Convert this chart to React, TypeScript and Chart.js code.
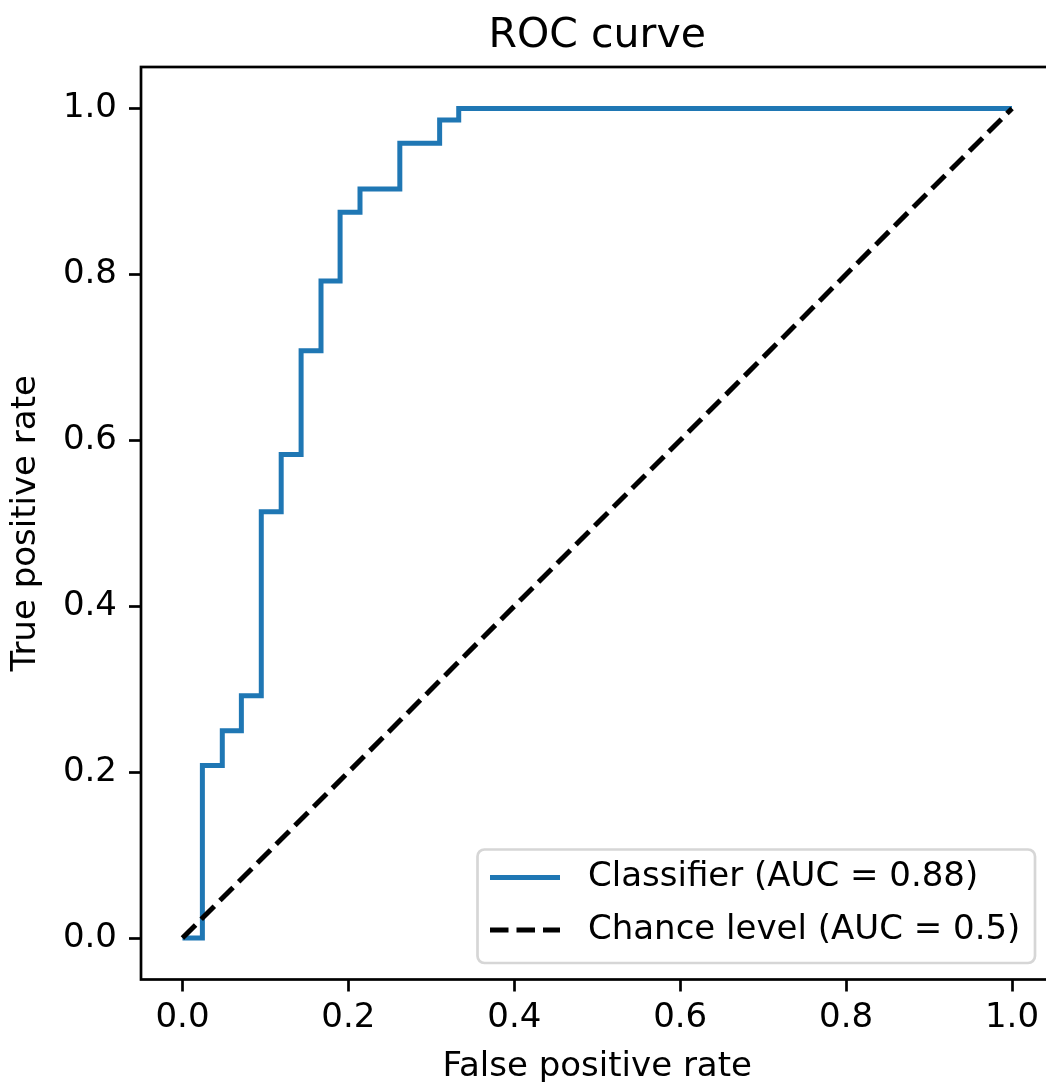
import React, { useEffect, useRef } from "react";
import { Chart, registerables } from "chart.js";

Chart.register(...registerables);

const CHART_TITLE = "ROC curve";
const X_LABEL = "False positive rate";
const Y_LABEL = "True positive rate";
const TICKS = [0, 0.2, 0.4, 0.6, 0.8, 1.0];

// ROC curve vertices (false positive rate, true positive rate)
const fpr = [0, 0.024, 0.024, 0.048, 0.048, 0.071, 0.071, 0.095, 0.095, 0.119, 0.119, 0.143, 0.143, 0.167, 0.167, 0.19, 0.19, 0.214, 0.214, 0.262, 0.262, 0.31, 0.31, 0.333, 0.333, 1.0];
const tpr = [0, 0, 0.208, 0.208, 0.25, 0.25, 0.292, 0.292, 0.514, 0.514, 0.583, 0.583, 0.708, 0.708, 0.792, 0.792, 0.875, 0.875, 0.903, 0.903, 0.958, 0.958, 0.986, 0.986, 1.0, 1.0];

const chanceX = [0, 1];
const chanceY = [0, 1];

const CLASSIFIER_LABEL = "Classifier (AUC = 0.88)";
const CHANCE_LABEL = "Chance level (AUC = 0.5)";

const FONT = "'DejaVu Sans', 'Liberation Sans', sans-serif";
const BLUE = "#1f77b4";
const FS = 34;

const W = 1070;
const H = 1082;

export default function App() {
  const ref = useRef<HTMLCanvasElement | null>(null);

  useEffect(() => {
    const canvas = ref.current;
    if (!canvas) return;

    const framePlugin = {
      id: "frameAndLegend",
      afterDatasetsDraw(chart: any) {
        const { ctx, chartArea } = chart;
        ctx.save();
        ctx.strokeStyle = "#000";
        ctx.lineWidth = 2.7;
        ctx.strokeRect(chartArea.left, chartArea.top, chartArea.right - chartArea.left, chartArea.bottom - chartArea.top);
        ctx.restore();
      },
      afterDraw(chart: any) {
        const { ctx, chartArea } = chart;
        ctx.save();
        // title
        ctx.fillStyle = "#000";
        ctx.font = `41px ${FONT}`;
        ctx.textAlign = "center";
        ctx.textBaseline = "alphabetic";
        ctx.fillText(CHART_TITLE, (chartArea.left + chartArea.right) / 2, 46.5);

        // legend
        const lx = 477.5, ly = 849.5, lw = 557.5, lh = 113.5, r = 7;
        ctx.beginPath();
        ctx.moveTo(lx + r, ly);
        ctx.lineTo(lx + lw - r, ly);
        ctx.arcTo(lx + lw, ly, lx + lw, ly + r, r);
        ctx.lineTo(lx + lw, ly + lh - r);
        ctx.arcTo(lx + lw, ly + lh, lx + lw - r, ly + lh, r);
        ctx.lineTo(lx + r, ly + lh);
        ctx.arcTo(lx, ly + lh, lx, ly + lh - r, r);
        ctx.lineTo(lx, ly + r);
        ctx.arcTo(lx, ly, lx + r, ly, r);
        ctx.closePath();
        ctx.fillStyle = "rgba(255,255,255,0.8)";
        ctx.fill();
        ctx.strokeStyle = "#d6d6d6";
        ctx.lineWidth = 2.7;
        ctx.stroke();

        const ds = chart.data.datasets;
        const entries = [ds[1], ds[0]];
        const rows = [877.5, 930];
        entries.forEach((d: any, i: number) => {
          const y = rows[i];
          ctx.beginPath();
          ctx.setLineDash(d.borderDash || []);
          ctx.lineCap = "butt";
          ctx.strokeStyle = d.borderColor;
          ctx.lineWidth = d.borderWidth;
          ctx.moveTo(490, y);
          ctx.lineTo(560, y);
          ctx.stroke();
          ctx.setLineDash([]);
          ctx.fillStyle = "#000";
          ctx.font = `${FS}px ${FONT}`;
          ctx.textAlign = "left";
          ctx.textBaseline = "middle";
          ctx.fillText(d.label, 588, y);
        });
        ctx.restore();
      },
    };

    const axisCommon = (title: string, isX: boolean) => ({
      type: "linear" as const,
      min: -0.05,
      max: 1.05,
      afterBuildTicks: (scale: any) => {
        scale.ticks = TICKS.map((v) => ({ value: v }));
      },
      afterFit: (scale: any) => {
        if (isX) scale.height = 102.5;
        else scale.width = 141;
      },
      grid: {
        display: true,
        drawOnChartArea: false,
        drawTicks: true,
        tickLength: 12,
        tickWidth: 2.7,
        tickColor: "#000",
      },
      border: { display: false },
      ticks: {
        color: "#000",
        font: { family: FONT, size: FS },
        padding: isX ? 6 : 12,
        maxRotation: 0,
        autoSkip: false,
        callback: (v: any) => Number(v).toFixed(1),
      },
      title: {
        display: true,
        text: title,
        color: "#000",
        font: { family: FONT, size: FS, lineHeight: 1 },
        padding: isX ? { top: 0, bottom: -2 } : { top: 9, bottom: 0 },
      },
    });

    const chart = new Chart(canvas, {
      type: "scatter",
      data: {
        datasets: [
          {
            label: CHANCE_LABEL,
            data: chanceX.map((x, i) => ({ x, y: chanceY[i] })),
            showLine: true,
            borderColor: "#000",
            borderWidth: 5,
            borderDash: [18.5, 8],
            pointRadius: 0,
            fill: false,
          },
          {
            label: CLASSIFIER_LABEL,
            data: fpr.map((x, i) => ({ x, y: tpr[i] })),
            showLine: true,
            borderColor: BLUE,
            borderWidth: 5,
            pointRadius: 0,
            fill: false,
          },
        ],
      },
      options: {
        responsive: false,
        animation: false,
        devicePixelRatio: 1,
        layout: { padding: { left: 0, top: 67, right: W - 1053.5, bottom: 0 } },
        plugins: {
          legend: { display: false },
          title: { display: false },
          tooltip: { enabled: false },
        },
        scales: {
          x: axisCommon(X_LABEL, true),
          y: axisCommon(Y_LABEL, false),
        },
      },
      plugins: [framePlugin],
    });

    return () => chart.destroy();
  }, []);

  return (
    <div style={{ position: "absolute", left: 0, top: 0, width: 1046, height: H, overflow: "hidden", background: "#fff" }}>
      <canvas ref={ref} width={W} height={H} style={{ width: W, height: H, display: "block" }} />
    </div>
  );
}
